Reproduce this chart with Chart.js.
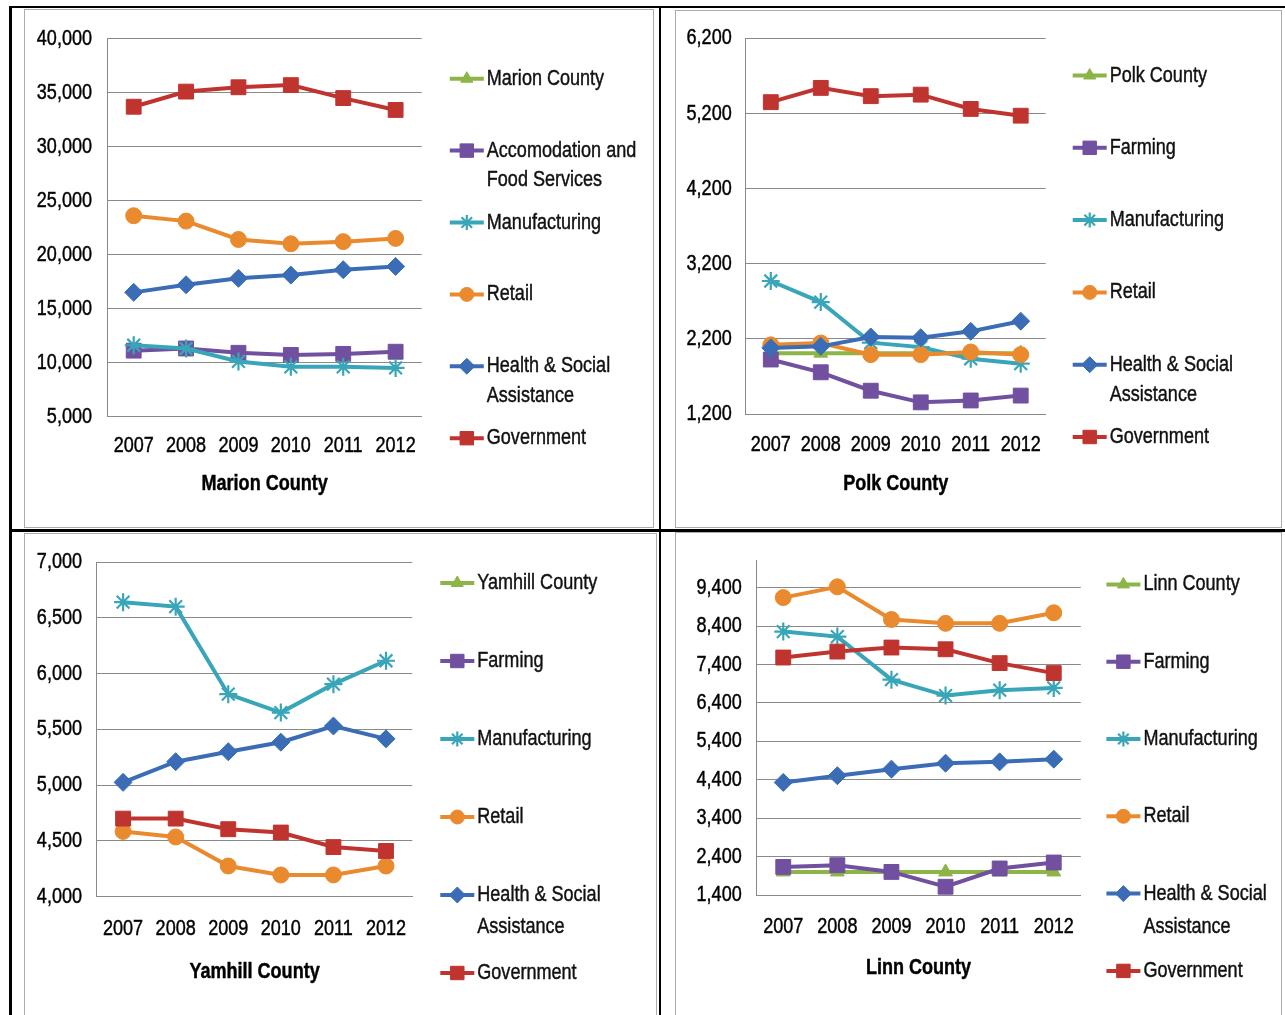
<!DOCTYPE html>
<html>
<head>
<meta charset="utf-8">
<title>Employment by industry, Mid-Willamette Valley counties, 2007–2012</title>
<script src="https://cdn.jsdelivr.net/npm/chart.js@4.4.0/dist/chart.umd.min.js"></script>
<style>
  html, body { margin: 0; padding: 0; background: #fff; }
  body { width: 1285px; height: 1015px; position: relative; overflow: hidden; }
  .rule { position: absolute; background: #000; }
  .panel { position: absolute; border: 1px solid #ababab; box-sizing: border-box; background: #fff; }
  .panel canvas { position: absolute; left: 0; top: 0; }
</style>
</head>
<body>
<div class="rule" style="left:9px;top:6px;width:1276px;height:2px"></div>
<div class="rule" style="left:9px;top:6px;width:3px;height:1009px"></div>
<div class="rule" style="left:659px;top:6px;width:2px;height:1009px"></div>
<div class="rule" style="left:9px;top:529px;width:1276px;height:3px"></div>

<div class="panel" id="p-marion"><canvas id="c-marion"></canvas></div>
<div class="panel" id="p-polk"><canvas id="c-polk"></canvas></div>
<div class="panel" id="p-yamhill"><canvas id="c-yamhill"></canvas></div>
<div class="panel" id="p-linn"><canvas id="c-linn"></canvas></div>

<script>
// ---- data -------------------------------------------------------------
const years = ['2007', '2008', '2009', '2010', '2011', '2012'];

// Marion County (county total has no values inside this axis range)
const marionTotal       = [null, null, null, null, null, null];
const marionAccomFood   = [11100, 11300, 10900, 10700, 10800, 11000];
const marionManufact    = [11600, 11300, 10100, 9600, 9600, 9500];
const marionRetail      = [23600, 23100, 21400, 21000, 21200, 21500];
const marionHealth      = [16500, 17200, 17800, 18100, 18600, 18900];
const marionGovernment  = [33700, 35100, 35500, 35700, 34500, 33400];

// Polk County
const polkTotal         = [2010, 2010, 2010, 2010, 2010, 2010];
const polkFarming       = [1925, 1755, 1510, 1355, 1380, 1445];
const polkManufact      = [2970, 2690, 2150, 2090, 1935, 1870];
const polkRetail        = [2120, 2145, 1990, 1990, 2025, 1990];
const polkHealth        = [2080, 2100, 2225, 2215, 2300, 2435];
const polkGovernment    = [5350, 5540, 5430, 5450, 5260, 5170];

// Yamhill County (total and farming have no values inside this axis range)
const yamhillTotal      = [null, null, null, null, null, null];
const yamhillFarming    = [null, null, null, null, null, null];
const yamhillManufact   = [6640, 6600, 5815, 5650, 5905, 6115];
const yamhillRetail     = [4585, 4535, 4275, 4195, 4195, 4275];
const yamhillHealth     = [5025, 5210, 5300, 5385, 5530, 5415];
const yamhillGovernment = [4700, 4700, 4605, 4575, 4445, 4410];

// Linn County
const linnTotal         = [2000, 2000, 2000, 2000, 2000, 2000];
const linnFarming       = [2130, 2175, 2000, 1615, 2090, 2245];
const linnManufact      = [8255, 8125, 7005, 6590, 6730, 6790];
const linnRetail        = [9140, 9420, 8570, 8470, 8470, 8745];
const linnHealth        = [4330, 4505, 4675, 4830, 4865, 4935];
const linnGovernment    = [7580, 7735, 7840, 7795, 7435, 7175];

// y-axis tick values and ranges
const marionTicks  = [5000, 10000, 15000, 20000, 25000, 30000, 35000, 40000];
const polkTicks    = [1200, 2200, 3200, 4200, 5200, 6200];
const yamhillTicks = [4000, 4500, 5000, 5500, 6000, 6500, 7000];
const linnTicks    = [1400, 2400, 3400, 4400, 5400, 6400, 7400, 8400, 9400];
const marionRange  = [5000, 40000];
const polkRange    = [1200, 6200];
const yamhillRange = [4000, 7000];
const linnRange    = [1400, 10100];

// ---- series styling ----------------------------------------------------
const STYLES = [
  { color: '#8db447', point: 'triangle', radius: 8,    legendRadius: 7 },
  { color: '#7150a0', point: 'rect',     radius: 10.5, legendRadius: 9.5 },
  { color: '#38a6b8', point: 'star',     radius: 9,    legendRadius: 7.5 },
  { color: '#ea8a2e', point: 'circle',   radius: 8,    legendRadius: 7 },
  { color: '#3a6db5', point: 'rectRot',  radius: 9,    legendRadius: 8 },
  { color: '#c0342f', point: 'rect',     radius: 10.5, legendRadius: 9.5 }
];

const FONT_FAMILY = '"Liberation Sans", Arial, sans-serif';
const NARROW = 0.82;          // horizontal squeeze giving a narrow sans face
const GRID = '#8a8a8a';

// Narrow lettering: every string on the canvas is drawn squeezed horizontally about its anchor,
// with a hairline outline in the fill colour for a slightly heavier stroke.
function narrowText(ctx, k) {
  const fill = ctx.fillText.bind(ctx);
  const outline = ctx.strokeText.bind(ctx);
  const measure = ctx.measureText.bind(ctx);
  ctx.fillText = function (text, x, y, maxWidth) {
    ctx.save();
    ctx.translate(x, y);
    ctx.scale(k, 1);
    ctx.strokeStyle = ctx.fillStyle;
    ctx.lineWidth = 0.45;
    ctx.lineJoin = 'round';
    ctx.setLineDash([]);
    if (maxWidth !== undefined) {
      fill(text, 0, 0, maxWidth / k);
      outline(text, 0, 0, maxWidth / k);
    } else {
      fill(text, 0, 0);
      outline(text, 0, 0);
    }
    ctx.restore();
  };
  ctx.measureText = function (text) {
    const m = measure(text);
    return {
      width: m.width * k,
      actualBoundingBoxLeft: m.actualBoundingBoxLeft * k,
      actualBoundingBoxRight: m.actualBoundingBoxRight * k,
      actualBoundingBoxAscent: m.actualBoundingBoxAscent,
      actualBoundingBoxDescent: m.actualBoundingBoxDescent,
      fontBoundingBoxAscent: m.fontBoundingBoxAscent,
      fontBoundingBoxDescent: m.fontBoundingBoxDescent
    };
  };
}

function makeDatasets(names, series) {
  return series.map((values, i) => {
    const s = STYLES[i];
    return {
      label: names[i].replace('\n', ' '),
      legendLines: names[i].split('\n'),
      legendRadius: s.legendRadius,
      data: values,
      borderColor: s.color,
      backgroundColor: s.color,
      borderWidth: 4,
      tension: 0,
      spanGaps: false,
      pointStyle: s.point,
      pointRadius: s.radius,
      pointHoverRadius: s.radius,
      pointBackgroundColor: s.color,
      pointBorderColor: s.color,
      pointBorderWidth: s.point === 'star' ? 2.2 : 1,
      order: series.length - i
    };
  });
}

// Legend drawn to the right of the plot: a short line with the marker and the series name.
const seriesLegend = {
  id: 'seriesLegend',
  afterDraw(chart, args, opts) {
    const ctx = chart.ctx;
    const area = chart.chartArea;
    const x0 = area.right + opts.x;
    const len = 34;
    chart.data.datasets.forEach((ds, i) => {
      const y = area.top + opts.top + i * opts.step;
      ctx.save();
      ctx.strokeStyle = ds.borderColor;
      ctx.lineWidth = ds.borderWidth;
      ctx.beginPath();
      ctx.moveTo(x0, y);
      ctx.lineTo(x0 + len, y);
      ctx.stroke();
      ctx.fillStyle = ds.pointBackgroundColor;
      ctx.strokeStyle = ds.pointBorderColor;
      ctx.lineWidth = ds.pointBorderWidth;
      if (Chart.helpers && Chart.helpers.drawPoint) {
        Chart.helpers.drawPoint(ctx, {
          pointStyle: ds.pointStyle,
          radius: ds.legendRadius,
          rotation: 0,
          borderWidth: ds.pointBorderWidth
        }, x0 + len / 2, y);
      }
      ctx.fillStyle = '#111';
      ctx.font = '22px ' + FONT_FAMILY;
      ctx.textAlign = 'left';
      ctx.textBaseline = 'middle';
      ds.legendLines.forEach((line, k) => {
        ctx.fillText(line, x0 + len + 3, y + k * opts.lineGap);
      });
      ctx.restore();
    });
  }
};

// Panel geometry in page pixels: border box, plot area, label offsets, legend placement.
function buildChart(cfg) {
  const panel = document.getElementById(cfg.panelId);
  const [bx, by, bw, bh] = cfg.box;
  panel.style.left = bx + 'px';
  panel.style.top = by + 'px';
  panel.style.width = bw + 'px';
  panel.style.height = bh + 'px';

  const cx = bx + 1, cy = by + 1, cw = bw - 2, ch = bh - 2;
  const canvas = document.getElementById(cfg.canvasId);
  canvas.width = cw;
  canvas.height = ch;
  canvas.style.width = cw + 'px';
  canvas.style.height = ch + 'px';
  narrowText(canvas.getContext('2d'), NARROW);

  const [L, T, R, B] = cfg.area;
  const YW = L - cx - 2;                 // y-axis box reaches almost to the panel edge
  const XH = cfg.titleGap + 13.2;
  const [min, max] = cfg.range;
  const tickValues = cfg.ticks;

  const chart = new Chart(canvas, {
    type: 'line',
    data: { labels: years, datasets: makeDatasets(cfg.names, cfg.series) },
    plugins: [seriesLegend],
    options: {
      responsive: false,
      animation: false,
      events: [],
      layout: {
        padding: {
          left: L - cx - YW,
          top: T - cy,
          right: cx + cw - R,
          bottom: cy + ch - B - XH
        }
      },
      plugins: {
        legend: { display: false },
        tooltip: { enabled: false },
        title: { display: false },
        seriesLegend: cfg.legend
      },
      scales: {
        x: {
          type: 'category',
          offset: true,
          grid: { display: false, drawTicks: false },
          border: { display: true, color: GRID, width: 1 },
          ticks: {
            color: '#000',
            padding: cfg.xLabelPad,
            maxRotation: 0,
            autoSkip: false,
            font: { family: FONT_FAMILY, size: 22 }
          },
          title: {
            display: true,
            text: cfg.title,
            color: '#000',
            padding: 0,
            font: { family: FONT_FAMILY, size: 22, weight: 'bold' }
          },
          afterFit(scale) { scale.height = XH; }
        },
        y: {
          min: min,
          max: max,
          grid: { color: GRID, lineWidth: 1, drawTicks: false },
          border: { display: true, color: GRID, width: 1 },
          ticks: {
            color: '#000',
            padding: cfg.yLabelPad,
            font: { family: FONT_FAMILY, size: 22 },
            callback: (v) => Number(v).toLocaleString('en-US')
          },
          afterBuildTicks(scale) {
            scale.ticks = tickValues.map(v => ({ value: v }));
          },
          afterFit(scale) { scale.width = YW; }
        }
      }
    }
  });

  // settle the plot area exactly onto its target rectangle
  for (let pass = 0; pass < 3; pass++) {
    const a = chart.chartArea;
    const p = Object.assign({}, chart.options.layout.padding);
    const dTop = (T - cy) - a.top;
    const dBottom = a.bottom - (B - cy);
    const dLeft = (L - cx) - a.left;
    const dRight = a.right - (R - cx);
    if (Math.abs(dTop) + Math.abs(dBottom) + Math.abs(dLeft) + Math.abs(dRight) < 0.05) break;
    chart.options.layout.padding = {
      top: p.top + dTop,
      bottom: p.bottom + dBottom,
      left: p.left + dLeft,
      right: p.right + dRight
    };
    chart.update('none');
  }
  return chart;
}

buildChart({
  panelId: 'p-marion', canvasId: 'c-marion',
  box: [24, 9, 630, 519],
  area: [107.5, 35, 421.8, 416.5],
  range: marionRange, ticks: marionTicks,
  xLabelPad: 16.3, yLabelPad: 15.5, titleGap: 67.5,
  title: 'Marion County',
  names: ['Marion County', 'Accomodation and\nFood Services', 'Manufacturing', 'Retail', 'Health & Social\nAssistance', 'Government'],
  series: [marionTotal, marionAccomFood, marionManufact, marionRetail, marionHealth, marionGovernment],
  legend: { x: 28, top: 40, step: 71.9, lineGap: 29.5 }
});

buildChart({
  panelId: 'p-polk', canvasId: 'c-polk',
  box: [675, 10, 607, 518],
  area: [745.8, 35.5, 1045.7, 414],
  range: polkRange, ticks: polkTicks,
  xLabelPad: 17.4, yLabelPad: 14.1, titleGap: 69.5,
  title: 'Polk County',
  names: ['Polk County', 'Farming', 'Manufacturing', 'Retail', 'Health & Social\nAssistance', 'Government'],
  series: [polkTotal, polkFarming, polkManufact, polkRetail, polkHealth, polkGovernment],
  legend: { x: 27, top: 37.2, step: 72.3, lineGap: 30.5 }
});

buildChart({
  panelId: 'p-yamhill', canvasId: 'c-yamhill',
  box: [24, 533, 633, 490],
  area: [96.8, 560.7, 412.3, 896.7],
  range: yamhillRange, ticks: yamhillTicks,
  xLabelPad: 19.1, yLabelPad: 14.8, titleGap: 75,
  title: 'Yamhill County',
  names: ['Yamhill County', 'Farming', 'Manufacturing', 'Retail', 'Health & Social\nAssistance', 'Government'],
  series: [yamhillTotal, yamhillFarming, yamhillManufact, yamhillRetail, yamhillHealth, yamhillGovernment],
  legend: { x: 28, top: 21, step: 78, lineGap: 31.5 }
});

buildChart({
  panelId: 'p-linn', canvasId: 'c-linn',
  box: [675, 532, 607, 490],
  area: [756.2, 558, 1080.8, 895],
  range: linnRange, ticks: linnTicks,
  xLabelPad: 18.5, yLabelPad: 14.5, titleGap: 73.3,
  title: 'Linn County',
  names: ['Linn County', 'Farming', 'Manufacturing', 'Retail', 'Health & Social\nAssistance', 'Government'],
  series: [linnTotal, linnFarming, linnManufact, linnRetail, linnHealth, linnGovernment],
  legend: { x: 25.6, top: 23.7, step: 77.3, lineGap: 33 }
});
</script>
</body>
</html>
